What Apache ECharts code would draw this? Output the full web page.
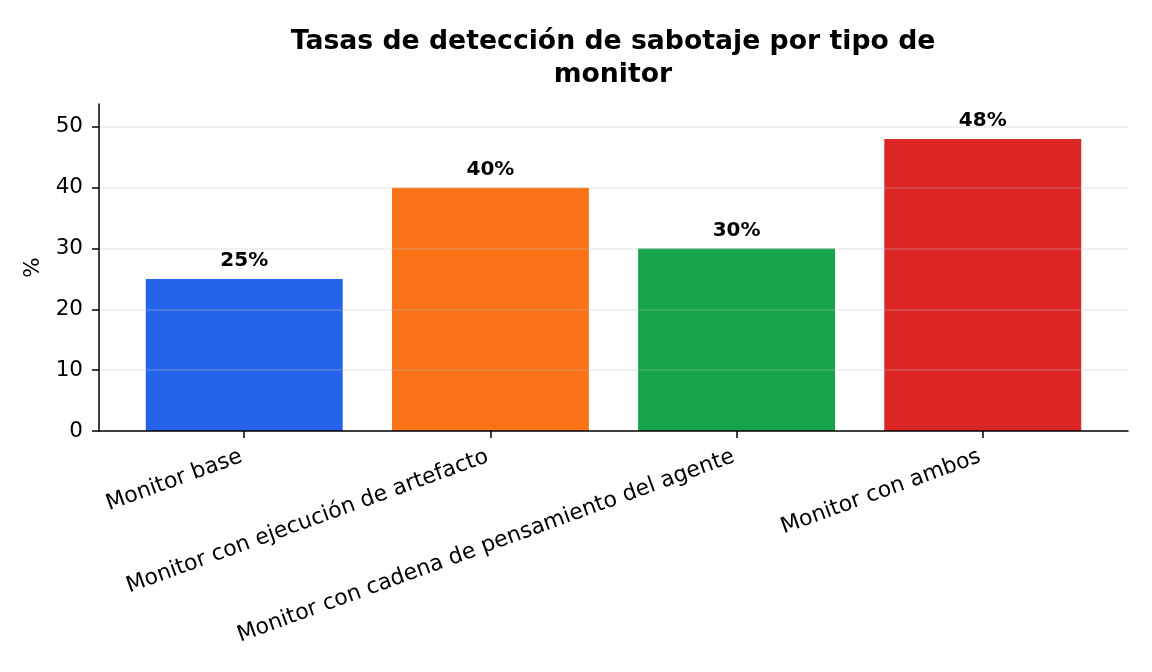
<!DOCTYPE html>
<html>
<head>
<meta charset="utf-8">
<script src="https://cdn.jsdelivr.net/npm/echarts@6/dist/echarts.min.js"></script>
<style>
  html, body { margin: 0; padding: 0; background: #fff; }
  #chart { width: 1152px; height: 672px; }
</style>
</head>
<body>
<div id="chart"></div>
<script>
const categories = [
  'Monitor base',
  'Monitor con ejecución de artefacto',
  'Monitor con cadena de pensamiento del agente',
  'Monitor con ambos'
]
const rates = [25, 40, 30, 48]
const barColors = ['#2563eb', '#f97316', '#16a34a', '#dc2626']
const yTicks = [0, 10, 20, 30, 40, 50]

const font = 'DejaVu Sans'
const chart = echarts.init(document.getElementById('chart'))

const positions = categories.map((_, i) => i)

const option = {
  animation: false,
  textStyle: { fontFamily: font },
  title: {
    text: 'Tasas de detección de sabotaje por tipo de\nmonitor',
    left: 613,
    top: 26,
    padding: 0,
    textAlign: 'center',
    textStyle: { fontFamily: font, fontSize: 26.7, fontWeight: 'bold', color: '#000', lineHeight: 33 }
  },
  grid: { left: 99, right: 24, top: 104, bottom: 241 },
  xAxis: {
    type: 'value',
    min: -0.59,
    max: 3.59,
    z: 3,
    splitLine: { show: false },
    axisLine: { show: true, onZero: false, lineStyle: { color: '#000', width: 1.5 } },
    axisTick: { show: true, customValues: positions, length: 7, lineStyle: { color: '#000', width: 1.5 } },
    axisLabel: {
      customValues: positions,
      rotate: 20,
      margin: 24,
      padding: [0, 3, 0, 0],
      fontSize: 22,
      color: '#000',
      fontFamily: font,
      formatter: v => categories[Math.round(v)]
    }
  },
  yAxis: {
    type: 'value',
    min: 0,
    max: 53.76,
    interval: 10,
    z: 3,
    name: '%',
    nameLocation: 'middle',
    nameGap: 54,
    nameTextStyle: { fontSize: 21.5, color: '#000', fontFamily: font },
    axisLine: { show: true, onZero: false, lineStyle: { color: '#000', width: 1.5 } },
    axisTick: { show: true, length: 7, lineStyle: { color: '#000', width: 1.5 } },
    axisLabel: {
      fontSize: 21.5,
      color: '#000',
      margin: 16,
      fontFamily: font,
      showMaxLabel: false,
      formatter: v => (yTicks.includes(v) ? String(v) : '')
    },
    splitLine: { show: true, showMinLine: false, showMaxLine: false, lineStyle: { color: 'rgba(190,190,190,0.3)', width: 1.5 } }
  },
  series: [{
    type: 'bar',
    barWidth: '80%',
    data: rates.map((v, i) => ({
      value: [positions[i], v],
      itemStyle: { color: barColors[i] }
    })),
    label: {
      show: true,
      position: 'top',
      distance: 8,
      fontSize: 20,
      fontWeight: 'bold',
      color: '#000',
      fontFamily: font,
      formatter: p => p.value[1] + '%'
    }
  }]
}

chart.setOption(option)
</script>
</body>
</html>
